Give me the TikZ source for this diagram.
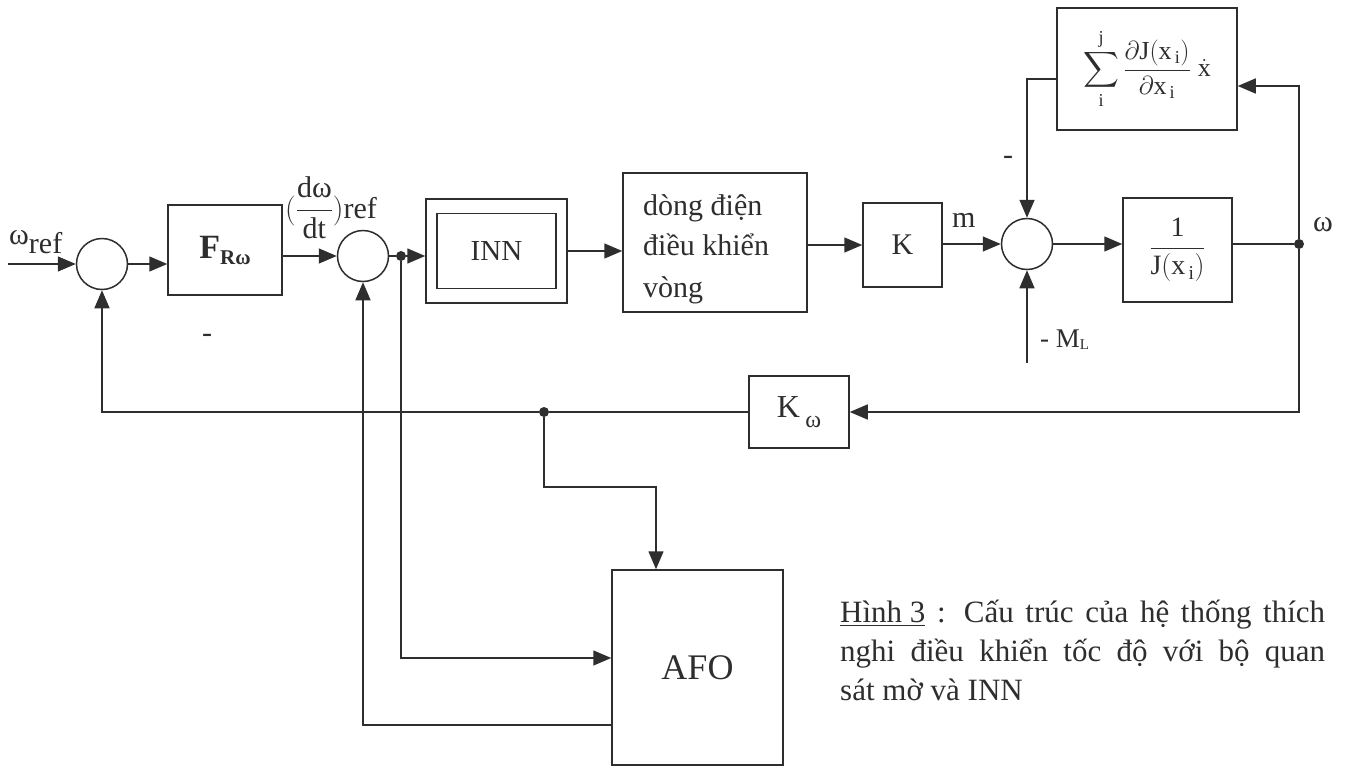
\RequirePackage{fix-cm}
\documentclass[tikz,border=0pt]{standalone}
\usepackage{amsmath}
\usepackage{fontspec}
\setmainfont{Liberation Serif}
\usetikzlibrary{arrows.meta}
\definecolor{ink}{gray}{0.18}
\newcommand{\fsz}[1]{\fontsize{#1}{#1}\selectfont}
\begin{document}
\begin{tikzpicture}[x=1pt,y=-1pt,
  every node/.style={text=ink},
  blk/.style={draw=ink, line width=1.5pt, inner sep=0pt},
  sumc/.style={draw=ink, circle, line width=1.5pt, minimum size=51pt, inner sep=0pt},
  wire/.style={draw=ink, line width=1.5pt},
  conn/.style={draw=ink, line width=1.5pt, -{Triangle[length=18pt,width=15pt]}},
  dotn/.style={circle, fill=ink, inner sep=0pt, minimum size=10pt},
  lbl/.style={font=\fsz{30}, inner sep=0pt}]
\useasboundingbox (0,0) rectangle (1347,769);
\fill[white] (0,0) rectangle (1347,769);

% --- blocks ---
\coordinate (in) at (8,264);
\node[sumc] (s1) at (102,264) {};
\node[blk, minimum width=114pt, minimum height=90pt] (F) at (225,250)
  {\fsz{34}\textbf{F}\raisebox{-6pt}{\fsz{21}\textbf{Rω}}};
\node[sumc] (s2) at (363,256) {};
\node[dotn] (d1) at (401,256) {};
\node[blk, minimum width=141pt, minimum height=104pt] (innO) at (496.5,251) {};
\node[blk, minimum width=119pt, minimum height=75pt, font=\fsz{29}] (innI) at (innO.center) {INN};
\node[blk, minimum width=184pt, minimum height=139pt] (dk) at (715,242.5) {};
\node[lbl, anchor=base west] (dk1) at (643,215) {dòng điện};
\node[lbl, anchor=base west] (dk2) at (643,255) {điều khiển};
\node[lbl, anchor=base west] (dk3) at (643,297) {vòng};
\node[blk, minimum width=79pt, minimum height=84pt, font=\fsz{30}] (K) at (902.5,245) {K};
\node[lbl, anchor=base west] (mlab) at (952,227) {m};
\node[sumc] (s3) at (1027,244) {};
\node[blk, minimum width=109pt, minimum height=104pt, font=\fsz{28}] (J) at (1177.5,250)
  {$\dfrac{\mathrm{1}}{\mathrm{J(x_{\,i})}}$};
\node[dotn] (d2) at (1299,244) {};
\node[lbl, anchor=base west] (wlab) at (1313,231) {ω};
\node[blk, minimum width=180pt, minimum height=122pt, font=\fsz{26}] (S) at (1147,69)
  {$\displaystyle\sum_{\mathrm{i}}^{\mathrm{j}}\dfrac{\partial\mathrm{J(x_{\,i})}}{\partial\mathrm{x_{\,i}}}\;\dot{\mathrm{x}}$};
\node[lbl] (minus3) at (1008,160) {-};
\coordinate (ml) at (1027,363);
\node[font=\fsz{27}, inner sep=0pt, anchor=base west] (mllab) at (1040,347) {- M\raisebox{-2pt}{\fsz{15}L}};
\node[blk, minimum width=100pt, minimum height=72pt] (Kw) at (799,412)
  {\fsz{32}K\,\raisebox{-10pt}{\fsz{24}ω}};
\node[dotn] (d3) at (544,412) {};
\node[lbl] (minus1) at (207,338) {-};
\node[blk, minimum width=171pt, minimum height=195pt, font=\fsz{36}] (afo) at (697.5,667.5) {AFO};
\coordinate (c2) at (656,487);

% --- labels ---
\node[lbl, anchor=base west] (wref) at (9,244) {ω\raisebox{-9pt}{ref}};
\node[lbl, anchor=base west] (dref) at (285,218)
  {$(\dfrac{\mbox{dω}}{\mbox{dt}})$ref};

% --- caption ---
\node[font=\fsz{31}, inner sep=0pt, anchor=base west] (cap1) at (840,622)
  {\makebox[485pt][s]{\underline{Hình 3} : Cấu trúc của hệ thống thích}};
\node[font=\fsz{31}, inner sep=0pt, anchor=base west] (cap2) at (840,661)
  {\makebox[485pt][s]{nghi điều khiển tốc độ với bộ quan}};
\node[font=\fsz{31}, inner sep=0pt, anchor=base west] (cap3) at (840,700)
  {sát mờ và INN};

% --- connectors ---
\draw[conn] (in) -- (s1.west);
\draw[conn] (s1.east) -- (F.west |- s1.east);
\draw[conn] (F.east |- s2.west) -- (s2.west);
\draw[wire] (s2.east) -- (d1);
\draw[conn] (d1) -- (innO.west |- d1);
\draw[conn] (innO.east) -- (dk.west |- innO.east);
\draw[conn] (dk.east |- K.west) -- (K.west);
\draw[conn] (K.east |- s3.west) -- (s3.west);
\draw[conn] (s3.east) -- (J.west |- s3.east);
\draw[wire] (J.east |- d2) -- (d2);
\draw[conn] (d2) |- ([yshift=-17pt]S.east);
\draw[conn] ([yshift=-10pt]S.west) -| (s3.north);
\draw[conn] (ml) -- (s3.south);
\draw[conn] (d2) |- (Kw.east);
\draw[wire] (Kw.west) -- (d3);
\draw[conn] (d3) -| (s1.south);
\draw[conn] (d3) |- (c2) -- (c2 |- afo.north);
\draw[conn] (d1) |- ([yshift=9.5pt]afo.west);
\draw[conn] ([yshift=-57.5pt]afo.west) -| (s2.south);
\end{tikzpicture}
\end{document}
